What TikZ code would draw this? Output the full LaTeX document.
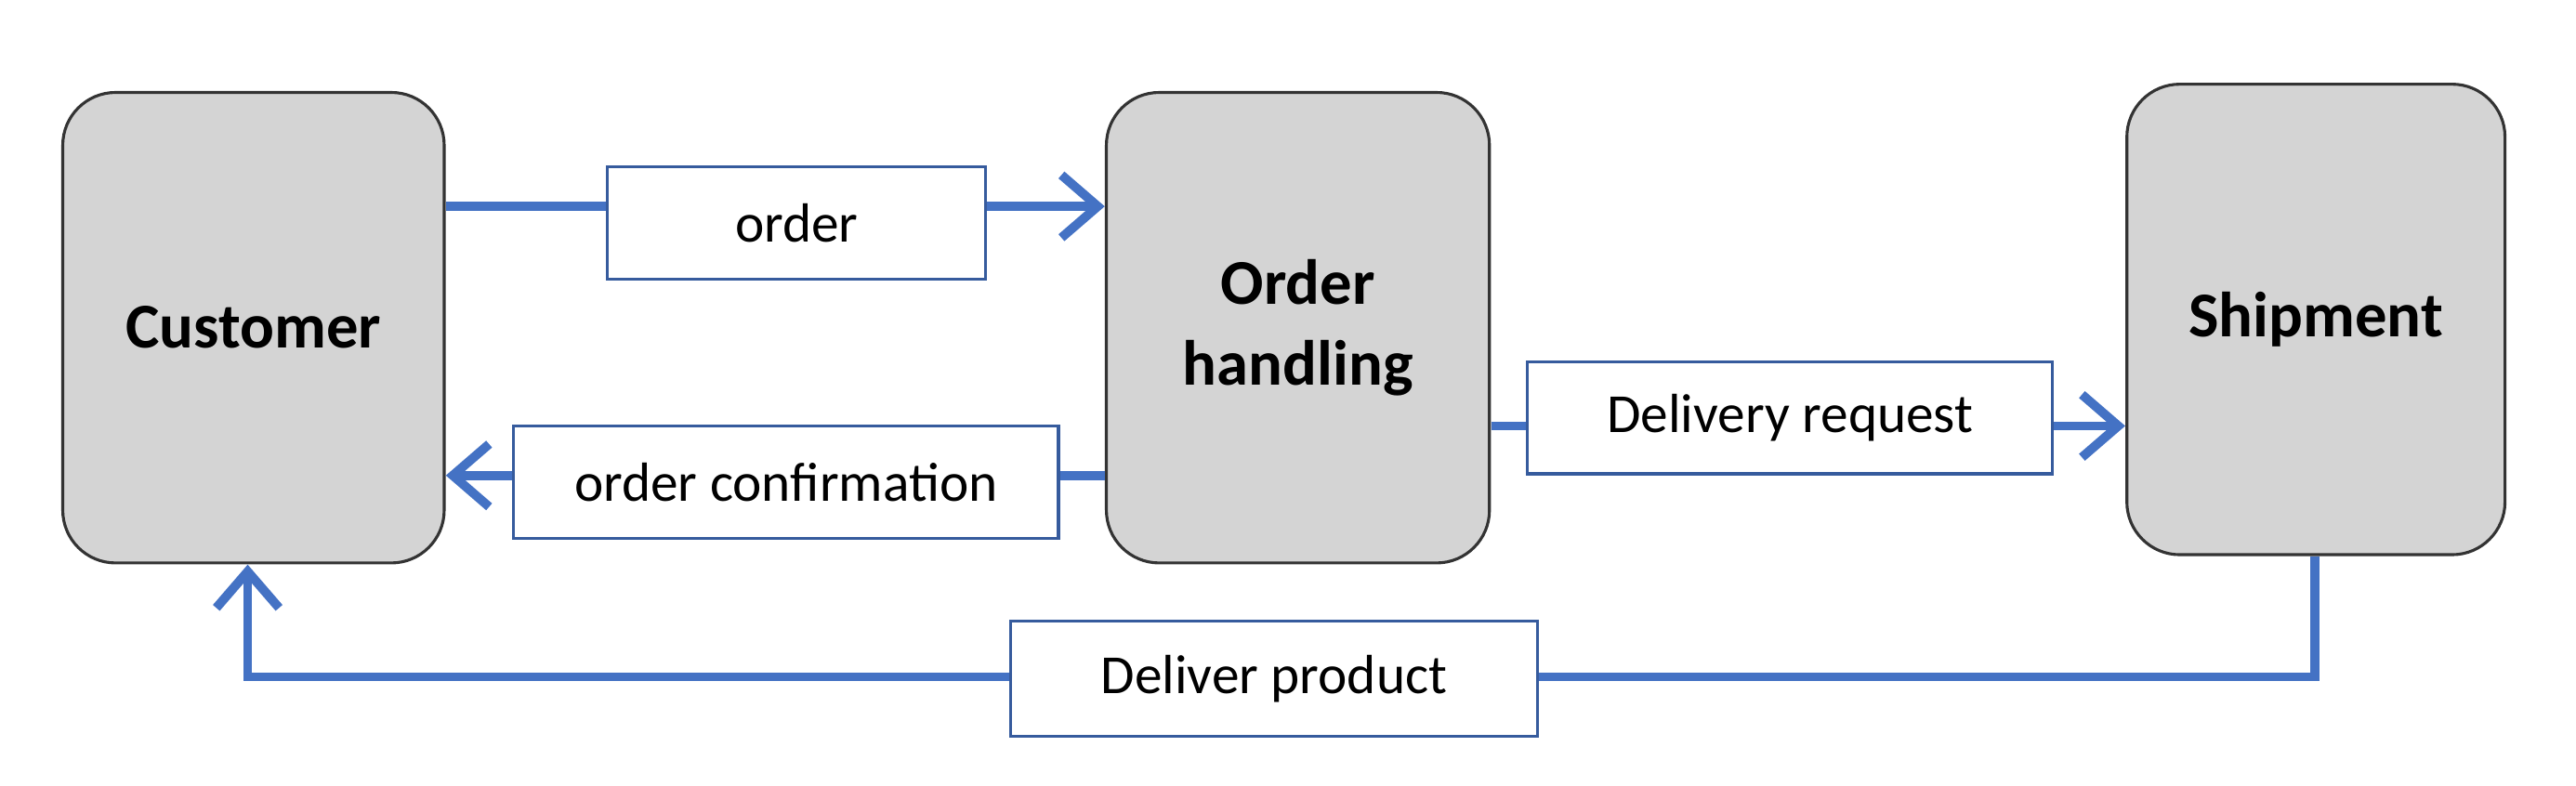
\documentclass[tikz,border=0pt]{standalone}
\usepackage{fontspec}
\setmainfont{Carlito}
\usetikzlibrary{arrows.meta}
\definecolor{flow}{HTML}{4472C4}
\begin{document}
\begin{tikzpicture}[x=0.1mm,y=-0.1mm,
  proc/.style={draw=black!80,line width=0.5pt,fill=black!17,rounded corners=3.2mm,inner sep=0pt,font=\bfseries\fontsize{11}{14}\selectfont,align=center},
  lab/.style={draw=flow!80!black,line width=0.5pt,fill=white,inner sep=0pt,font=\fontsize{9.5}{12}\selectfont},
  conn/.style={draw=flow,line width=0.55mm},
  arr/.style={conn,-{Straight Barb[length=2.2mm,width=3.8mm,line width=0.55mm]}}]
\useasboundingbox (0,0) rectangle (1560,476);
\node[proc,minimum width=23.1mm,minimum height=28.5mm] (cust) at (153.5,198.5) {Customer};
\node[proc,minimum width=23.2mm,minimum height=28.5mm] (oh) at (786,198.5) {Order\\handling};
\node[proc,minimum width=22.9mm,minimum height=28.5mm] (ship) at (1402.5,193.5) {Shipment};
\node[lab,minimum width=22.9mm,minimum height=6.8mm] (ord) at (482.5,135) {order};
\node[lab,minimum width=33mm,minimum height=6.8mm] (conf) at (476,292) {order confirmation};
\node[lab,minimum width=31.8mm,minimum height=6.8mm] (dreq) at (1084,253) {Delivery request};
\node[lab,minimum width=31.9mm,minimum height=7mm] (dprod) at (771.5,411) {Deliver product};
\coordinate (a1) at (270,125); \coordinate (a2) at (669,125);
\draw[conn] (a1) -- (ord.west|-a1);
\draw[arr] (ord.east|-a1) -- (a2);
\coordinate (b1) at (669,288); \coordinate (b2) at (270,288);
\draw[conn] (b1) -- (conf.east|-b1);
\draw[arr] (conf.west|-b1) -- (b2);
\coordinate (c1) at (903,258); \coordinate (c2) at (1287,258);
\draw[conn] (c1) -- (dreq.west|-c1);
\draw[arr] (dreq.east|-c1) -- (c2);
\coordinate (d1) at (1402,337); \coordinate (d2) at (150,342);
\draw[conn] (d1) |- (dprod.east|-0,410);
\draw[arr] (dprod.west|-0,410) -| (d2);
\end{tikzpicture}
\end{document}
